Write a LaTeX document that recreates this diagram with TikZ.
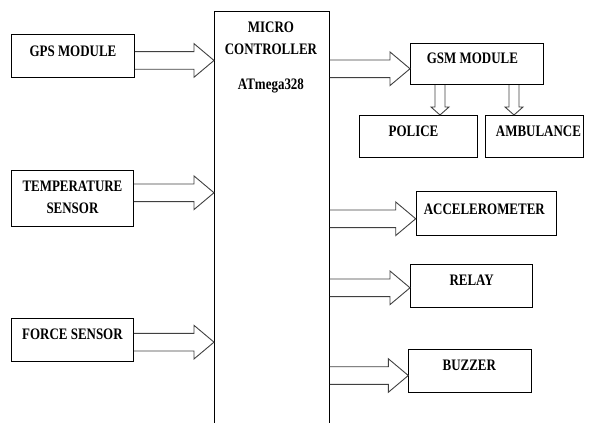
\documentclass[tikz,border=0pt]{standalone}
\usepackage{fontspec}
\setmainfont{Liberation Serif}[FakeStretch=0.81]
\usetikzlibrary{calc}
\tikzset{
  box/.style={draw=black, line width=0.9pt, inner sep=0pt, anchor=north west},
  lbl/.style={font=\fontsize{16}{22}\selectfont\bfseries, anchor=base, align=center, inner sep=0pt},
  fat/.style={draw=black!75, line width=0.9pt, line join=miter},
}
\newcommand{\hfat}[2]{\draw[fat] let \p1=#1, \p2=#2 in
  (\x1,\y1+8.8pt) -- (\x2-20pt,\y1+8.8pt) -- (\x2-20pt,\y1+16.8pt) -- (\x2,\y1)
  -- (\x2-20pt,\y1-16.8pt) -- (\x2-20pt,\y1-8.8pt) -- (\x1,\y1-8.8pt);}
\newcommand{\vfat}[2]{\draw[fat] let \p1=#1, \p2=#2 in
  (\x1-5pt,\y1) -- (\x1-5pt,\y2+8pt) -- (\x1-9pt,\y2+8pt) -- (\x1,\y2)
  -- (\x1+9pt,\y2+8pt) -- (\x1+5pt,\y2+8pt) -- (\x1+5pt,\y1);}
\begin{document}
\begin{tikzpicture}[x=1pt,y=-1pt]
\useasboundingbox (0,0) rectangle (592,423);
\clip (0,0) rectangle (592,423);
% boxes
\node[box, minimum width=115pt, minimum height=430pt] (mc) at (214,11) {};
\node[box, minimum width=123pt, minimum height=43pt] (gps) at (11,34) {};
\node[box, minimum width=122pt, minimum height=56pt] (temp) at (11,170) {};
\node[box, minimum width=122pt, minimum height=43pt] (force) at (11,318) {};
\node[box, minimum width=133pt, minimum height=41.6pt] (gsm) at (410,42.7) {};
\node[box, minimum width=118pt, minimum height=42pt] (police) at (359,115) {};
\node[box, minimum width=98pt, minimum height=42pt] (amb) at (485,115) {};
\node[box, minimum width=140.3pt, minimum height=44pt] (acc) at (415.7,191) {};
\node[box, minimum width=122.3pt, minimum height=42.7pt] (relay) at (410,264) {};
\node[box, minimum width=123pt, minimum height=42.7pt] (buzz) at (408.3,349) {};
% labels
\node[lbl] (mct) at ($(mc.north)+(-1,43.3)$) {MICRO\\CONTROLLER};
\node[lbl] (mcat) at ($(mc.north)+(-1,78)$) {ATmega328};
\node[lbl] (gpst) at ($(gps.north)+(0,22)$) {GPS MODULE};
\node[lbl] (tempt) at ($(temp.north)+(0,43.3)$) {TEMPERATURE\\SENSOR};
\node[lbl] (forcet) at ($(force.north)+(0,21.3)$) {FORCE SENSOR};
\node[lbl] (gsmt) at ($(gsm.north)+(-4.5,20.6)$) {GSM MODULE};
\node[lbl] (policet) at ($(police.north)+(-5,21)$) {POLICE};
\node[lbl] (ambt) at ($(amb.north)+(4,21)$) {AMBULANCE};
\node[lbl] (acct) at ($(acc.north)+(-2,23.3)$) {ACCELEROMETER};
\node[lbl] (relayt) at ($(relay.north)+(0,21)$) {RELAY};
\node[lbl] (buzzt) at ($(buzz.north)+(-1,21)$) {BUZZER};
% fat arrows
\hfat{($(gps.east)+(0,4.5)$)}{(mc.west)}
\hfat{($(temp.east)+(0,-5.7)$)}{(mc.west)}
\hfat{($(force.east)+(0,2.2)$)}{(mc.west)}
\hfat{($(mc.east|-gsm.west)+(0,4.8)$)}{(gsm.west)}
\hfat{($(mc.east|-acc.west)+(0,5.3)$)}{(acc.west)}
\hfat{($(mc.east|-relay.west)+(0,2)$)}{(relay.west)}
\hfat{($(mc.east|-buzz.west)+(0,4.7)$)}{(buzz.west)}
\vfat{($(gsm.south west)+(30,0)$)}{(police.north)}
\vfat{($(gsm.south west)+(104,0)$)}{(amb.north)}
\end{tikzpicture}
\end{document}
